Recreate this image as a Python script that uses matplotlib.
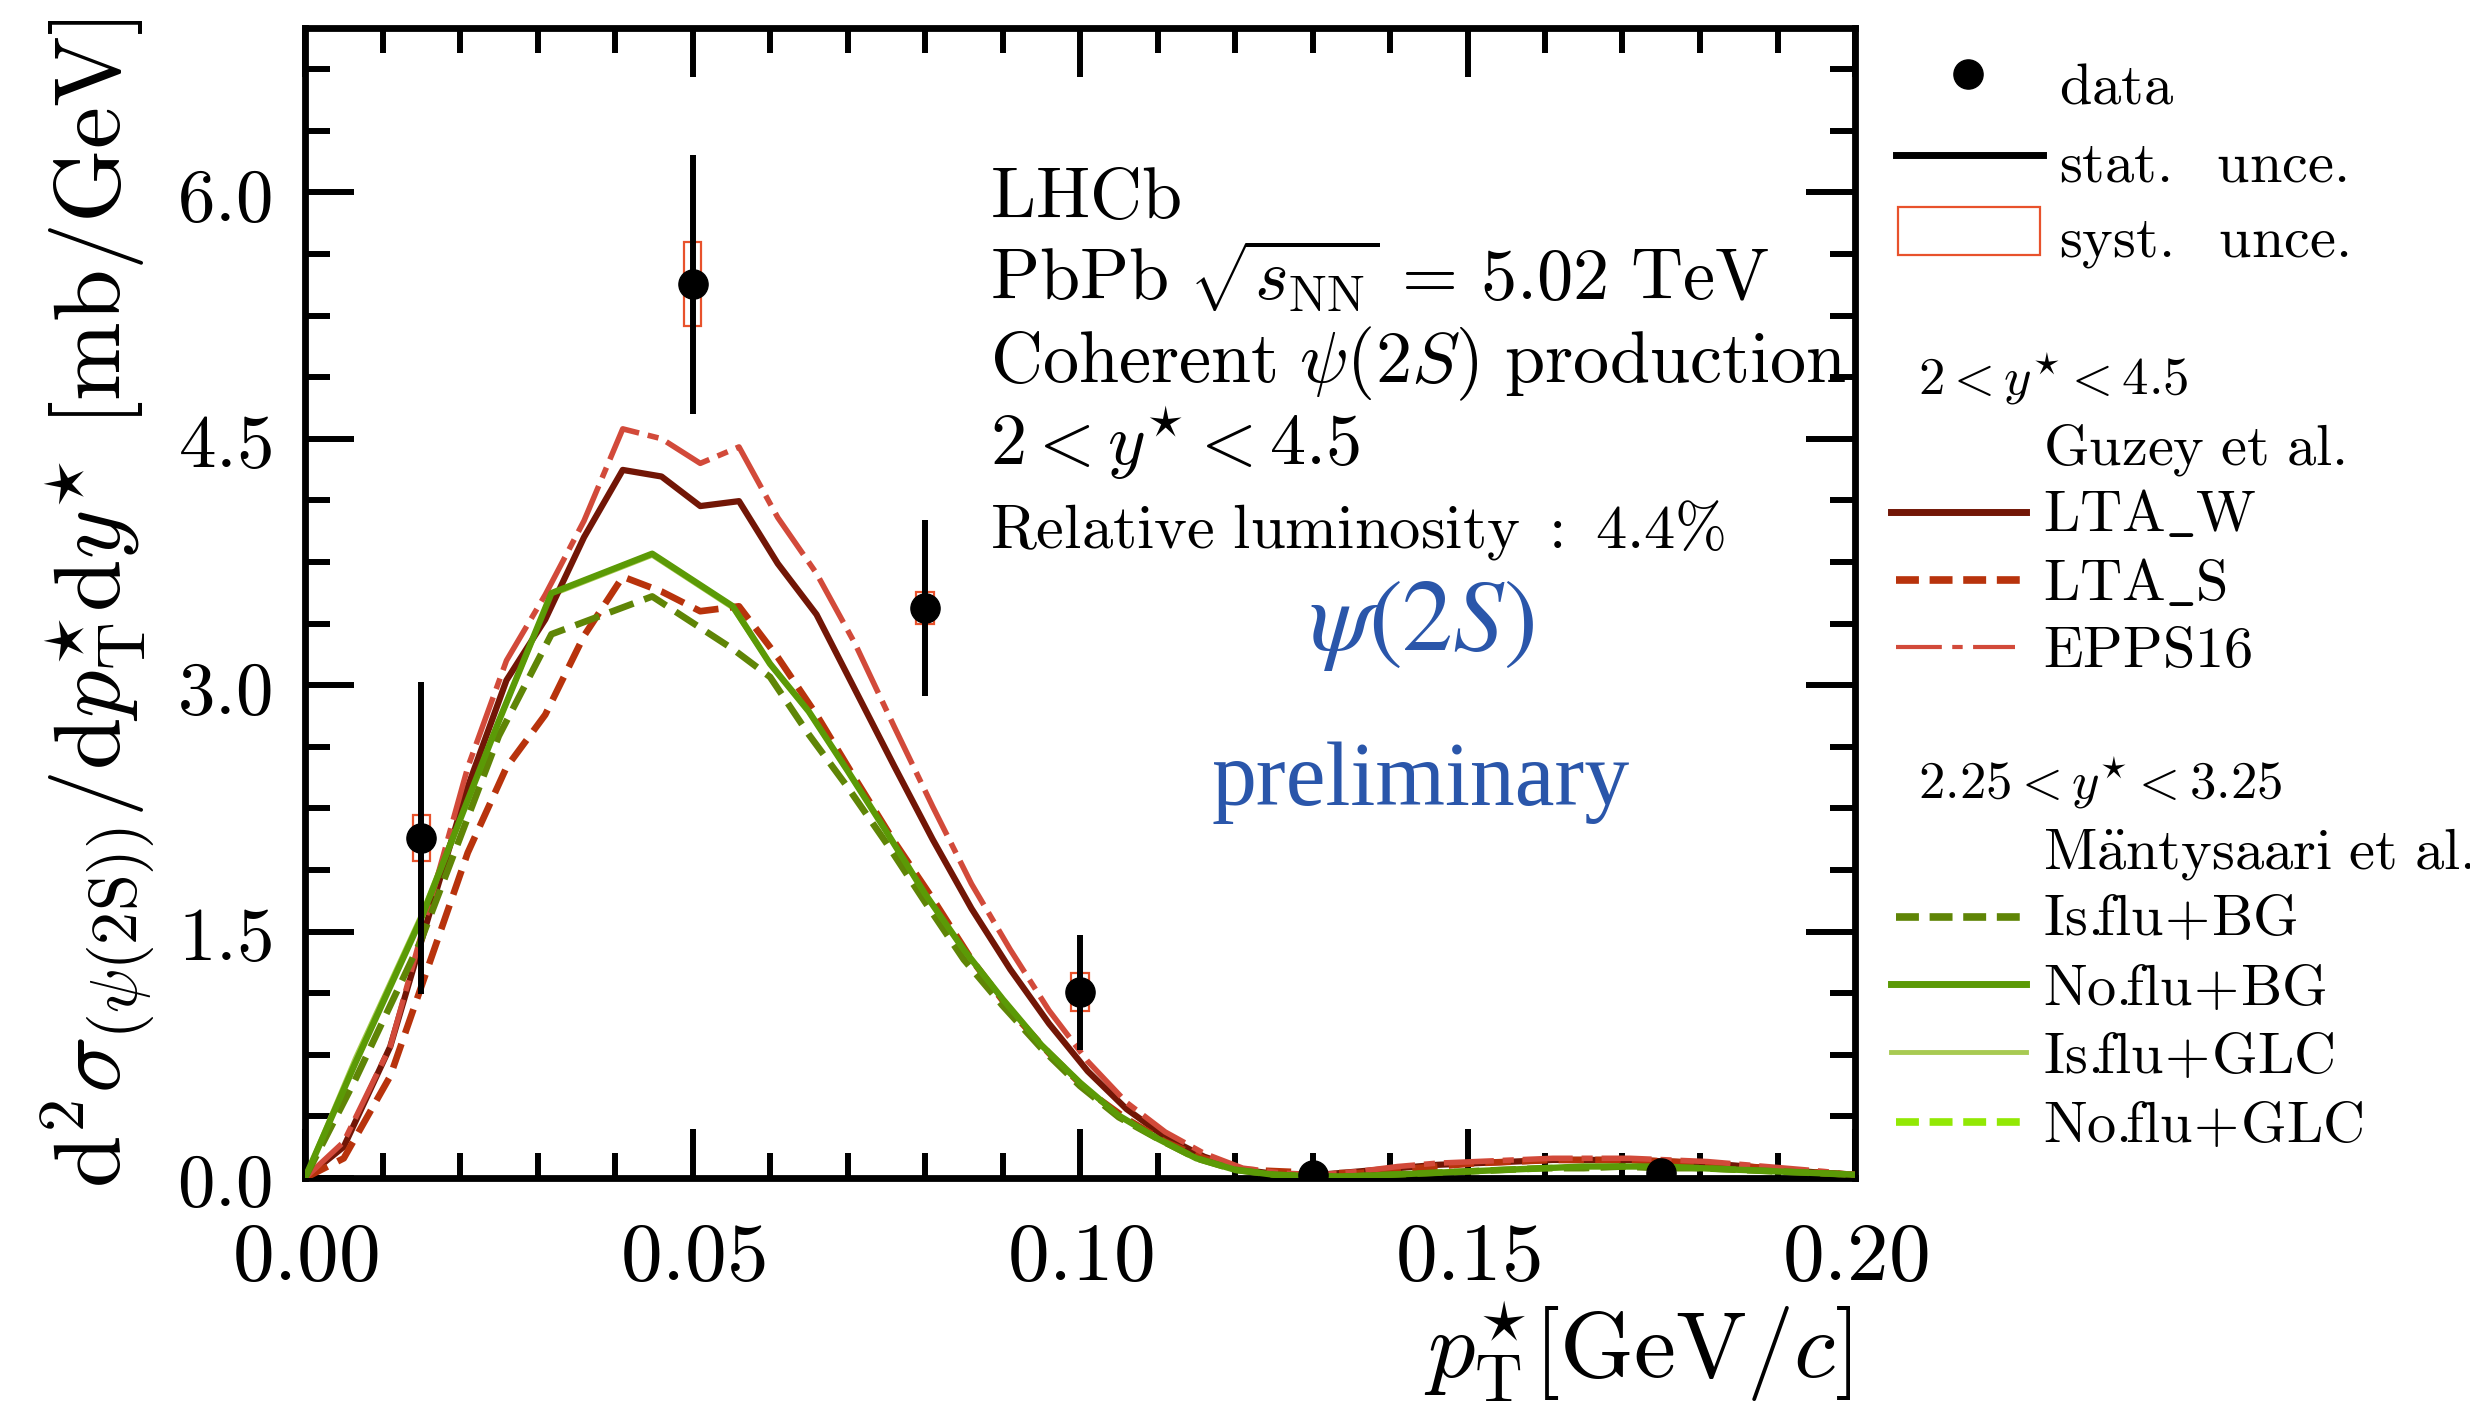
import matplotlib
matplotlib.use("Agg")
import matplotlib.pyplot as plt
from matplotlib.lines import Line2D
from matplotlib.patches import Rectangle

plt.rcParams['mathtext.fontset'] = 'cm'
plt.rcParams['font.family'] = ['DejaVu Serif']

# ---------------- data ----------------
pt = [0.015, 0.050, 0.080, 0.100, 0.130, 0.175]
xsec = [2.07, 5.44, 3.47, 1.13, 0.02, 0.03]
stat_unc = [0.95, 0.79, 0.535, 0.35, 0.02, 0.02]
syst_unc = [0.14, 0.255, 0.10, 0.115, 0.01, 0.01]

# Guzey et al. (2 < y* < 4.5)
guzey_x = [0, .005, .011, .016, .021, .026, .031, .036, .041, .046,
           .051, .056, .061, .066, .071, .076, .081, .086, .091, .096,
           .101, .106, .111, .116, .121, .126, .131, .136, .141, .146,
           .151, .156, .161, .166, .171, .176, .181, .186, .191, .196, .200]
lta_w = [0, .19, .80, 1.60, 2.38, 3.03, 3.40, 3.90, 4.31, 4.27,
         4.09, 4.12, 3.74, 3.43, 2.97, 2.51, 2.06, 1.64, 1.27, .94,
         .65, .42, .25, .13, .05, .02, .02, .04, .06, .08,
         .09, .10, .11, .11, .11, .10, .09, .07, .05, .03, .02]
lta_s = [0, .12, .62, 1.30, 1.98, 2.50, 2.82, 3.30, 3.66, 3.57,
         3.45, 3.48, 3.17, 2.82, 2.43, 2.05, 1.70, 1.33, 1.02, .76,
         .53, .36, .22, .12, .05, .04, .03, .03, .05, .07,
         .09, .10, .11, .11, .11, .10, .09, .07, .05, .03, .02]
epps16 = [0, .22, .80, 1.65, 2.50, 3.15, 3.55, 4.00, 4.56, 4.50,
          4.35, 4.45, 4.02, 3.68, 3.25, 2.75, 2.26, 1.79, 1.39, 1.02,
          .71, .46, .28, .15, .06, .03, .02, .04, .07, .09,
          .10, .11, .12, .12, .12, .11, .10, .08, .06, .04, .02]

# Mantysaari et al. (2.25 < y* < 3.25)
mant_x = [0, .0065, .015, .025, .0318, .0448, .0552, .060, .065, .070,
          .075, .080, .085, .090, .095, .100, .105, .110, .115, .120,
          .125, .130, .135, .140, .145, .150, .155, .160, .165, .170,
          .175, .180, .185, .190, .195, .200]
isflu_bg = [0, .60, 1.45, 2.69, 3.31, 3.54, 3.22, 3.05, 2.70, 2.38,
            2.04, 1.68, 1.33, 1.05, .79, .56, .37, .24, .12, .05,
            .02, .01, .01, .02, .03, .04, .05, .06, .06, .07,
            .06, .06, .05, .04, .03, .02]
noflu_bg = [0, .70, 1.58, 2.78, 3.56, 3.80, 3.48, 3.13, 2.84, 2.48,
            2.11, 1.73, 1.39, 1.09, .81, .58, .38, .24, .12, .05,
            .02, .01, .01, .02, .03, .04, .05, .06, .07, .07,
            .07, .06, .05, .04, .03, .02]
isflu_glc = [0, .73, 1.60, 2.78, 3.55, 3.79, 3.47, 3.13, 2.84, 2.48,
             2.11, 1.73, 1.39, 1.09, .81, .58, .38, .24, .12, .05,
             .02, .01, .01, .02, .03, .04, .05, .06, .07, .07,
             .07, .06, .05, .04, .03, .02]
noflu_glc = [0, .71, 1.59, 2.78, 3.56, 3.80, 3.48, 3.13, 2.84, 2.48,
             2.11, 1.73, 1.39, 1.09, .81, .58, .38, .24, .12, .05,
             .02, .01, .01, .02, .03, .04, .05, .06, .07, .07,
             .07, .06, .05, .04, .03, .02]

x_major = [0.00, 0.05, 0.10, 0.15, 0.20]
y_major = [0.0, 1.5, 3.0, 4.5, 6.0]

# ---------------- styles ----------------
C_LTAW = '#721606'
C_LTAS = '#b8330c'
C_EPPS = '#d24a3a'
C_ISBG = '#5f8506'
C_NOBG = '#5b9a06'
C_ISGLC = '#a8ca52'
C_NOGLC = '#92e804'
C_SYST = '#e8522c'
C_BLUE = '#2a56aa'

W, H = 2470, 1409
fig = plt.figure(figsize=(W / 100, H / 100), dpi=100)
ax = fig.add_axes([305 / W, 1 - 1178 / H, 1550 / W, 1150 / H])

def FX(px):
    return px / W

def FY(py):
    return 1 - py / H

# model curves
ax.plot(mant_x, isflu_glc, color=C_ISGLC, lw=3.5, zorder=2)
ax.plot(mant_x, noflu_glc, color=C_NOGLC, lw=3.5, dashes=(3.8, 1.7), zorder=2)
ax.plot(guzey_x, lta_w, color=C_LTAW, lw=4.5, zorder=3)
ax.plot(guzey_x, lta_s, color=C_LTAS, lw=4.8, dashes=(3.8, 1.7), zorder=3)
ax.plot(guzey_x, epps16, color=C_EPPS, lw=4.0, dashes=(9, 1.6, 2.0, 1.6), zorder=3)
ax.plot(mant_x, isflu_bg, color=C_ISBG, lw=4.8, dashes=(3.8, 1.7), zorder=4)
ax.plot(mant_x, noflu_bg, color=C_NOBG, lw=4.6, zorder=4)

# data
hw = 0.0011
for xi, yi, si in zip(pt, xsec, syst_unc):
    ax.add_patch(Rectangle((xi - hw, yi - si), 2 * hw, 2 * si, fill=False,
                           ec=C_SYST, lw=1.6, zorder=5))
ax.errorbar(pt, xsec, yerr=stat_unc, fmt='o', color='k', ms=21,
            elinewidth=4.3, capsize=0, zorder=6)

ax.set_xlim(0, 0.2)
ax.set_ylim(0, 7.0)
ax.set_xticks(x_major, labels=[f'${v:.2f}$' for v in x_major])
ax.set_yticks(y_major, labels=[f'${v:.1f}$' for v in y_major])
ax.xaxis.set_minor_locator(matplotlib.ticker.MultipleLocator(0.01))
ax.yaxis.set_minor_locator(matplotlib.ticker.MultipleLocator(0.375))
ax.tick_params(which='both', direction='in', top=True, right=True, width=4.3)
ax.tick_params(which='major', length=35)
ax.tick_params(which='minor', length=18)
ax.tick_params(axis='x', which='major', labelsize=60, pad=28)
ax.tick_params(axis='y', which='major', labelsize=54, pad=24)
for s in ax.spines.values():
    s.set_linewidth(4.9)

ax.set_ylabel(r'$\mathrm{d}^{2}\sigma_{(\psi(2\mathrm{S}))}/\mathrm{d}p_{\mathrm{T}}^{\star}\mathrm{d}y^{\star}\ [\mathrm{mb/GeV}]$',
              fontsize=68)
ax.yaxis.set_label_coords(-0.0955, 0.5)
ax.set_xlabel(r'$p_{\mathrm{T}}^{\star}[\mathrm{GeV}/c]$', fontsize=68, loc='right')
ax.xaxis.label.set_va('baseline')
ax.xaxis.set_label_coords((1851 - 305) / 1550, -(1378 - 1178) / 1150)

# text block
TFS = 52
fig.text(FX(990), FY(218), r'$\mathrm{LHCb}$', fontsize=TFS, va='baseline')
fig.text(FX(990), FY(300), r'$\mathrm{PbPb}\ \sqrt{s_{\mathrm{NN}}}\, =\, 5.02\ \mathrm{TeV}$', fontsize=TFS, va='baseline')
fig.text(FX(990), FY(382), r'$\mathrm{Coherent}\ \psi(2S)\ \mathrm{production}$', fontsize=TFS, va='baseline')
fig.text(FX(990), FY(465), r'$2 < y^{\star} < 4.5$', fontsize=TFS, va='baseline')
fig.text(FX(990), FY(547), r'$\mathrm{Relative\ luminosity\ :\ 4.4\%}$', fontsize=45, va='baseline')
fig.text(FX(1422), FY(650), r'$\psi(2S)$', color=C_BLUE, fontsize=73, ha='center',
         va='baseline', math_fontfamily='stix')
fig.text(FX(1421), FY(805), 'preliminary', family='Liberation Serif', fontsize=64.5,
         color=C_BLUE, ha='center', va='baseline')

# legend (drawn in figure coordinates)
LFS = 42
HFS = 38
fig.add_artist(Line2D([FX(1968)], [FY(74)], marker='o', ms=21, color='k', ls='none'))
fig.text(FX(2059), FY(103), r'$\mathrm{data}$', fontsize=LFS, va='baseline')
fig.add_artist(Line2D([FX(1896), FX(2043)], [FY(155), FY(155)], color='k', lw=5))
fig.text(FX(2059), FY(181), r'$\mathrm{stat.\ \ unce.}$', fontsize=LFS, va='baseline')
fig.add_artist(Rectangle((FX(1898), FY(255)), FX(2040) - FX(1898), FY(207) - FY(255),
                         transform=fig.transFigure, fill=False, ec=C_SYST, lw=1.6))
fig.text(FX(2059), FY(257), r'$\mathrm{syst.\ \ unce.}$', fontsize=LFS, va='baseline')

fig.text(FX(1918), FY(395), r'$2 < y^{\star} < 4.5$', fontsize=HFS, va='baseline')
fig.text(FX(2043), FY(464), r'$\mathrm{Guzey\ et\ al.}$', fontsize=LFS, va='baseline')
entries1 = [
    (r'$\mathrm{LTA\_W}$', C_LTAW, 5.0, None, 512, 531, 1891, 2026),
    (r'$\mathrm{LTA\_S}$', C_LTAS, 5.5, (3.0, 1.4), 580, 600, 1896, 2023),
    (r'$\mathrm{EPPS16}$', C_EPPS, 3.0, (11, 2.5, 2.5, 2.5), 647, 667, 1896, 2015),
]
fig.text(FX(1918), FY(798), r'$2.25 < y^{\star} < 3.25$', fontsize=HFS, va='baseline')
fig.text(FX(2043), FY(868), r'$\mathrm{M\ddot{a}ntysaari\ et\ al.}$', fontsize=LFS, va='baseline')
entries2 = [
    (r'$\mathrm{Is.\!\!flu\!+\!BG}$', C_ISBG, 5.5, (3.0, 1.4), 917, 935, 1896, 2023),
    (r'$\mathrm{No.\!\!flu\!+\!BG}$', C_NOBG, 5.0, None, 984, 1005, 1891, 2026),
    (r'$\mathrm{Is.\!\!flu\!+\!GLC}$', C_ISGLC, 3.5, None, 1052, 1073, 1891, 2026),
    (r'$\mathrm{No.\!\!flu\!+\!GLC}$', C_NOGLC, 5.5, (3.0, 1.4), 1122, 1142, 1896, 2023),
]
for lab, col, lw, dsh, yl, yt, x0, x1 in entries1 + entries2:
    ln = Line2D([FX(x0), FX(x1)], [FY(yl), FY(yl)], color=col, lw=lw)
    if dsh is not None:
        ln.set_dashes(dsh)
    fig.add_artist(ln)
    fig.text(FX(2043), FY(yt), lab, fontsize=LFS, va='baseline')

fig.savefig('out.png', dpi=100, facecolor='white')
